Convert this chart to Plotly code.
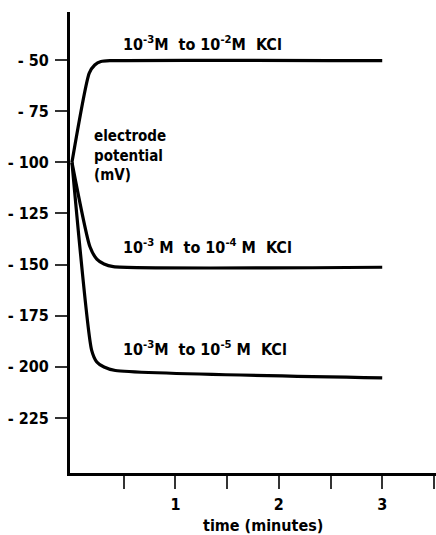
import plotly.graph_objects as go

# Data (time in minutes, electrode potential in mV)
t_1 = [0.0, 0.167, 0.22, 0.28, 0.37, 3.0]
v_1 = [-100.0, -56.4, -52.4, -50.7, -50.3, -50.3]

t_2 = [0.0, 0.174, 0.24, 0.31, 0.40, 3.0]
v_2 = [-100.0, -141.3, -147.3, -149.7, -151.0, -151.3]

t_3 = [0.0, 0.19, 0.24, 0.31, 0.42, 3.0]
v_3 = [-100.0, -191.8, -197.6, -200.1, -201.8, -205.4]

series_labels = [
    "10<sup>-3</sup>M  to 10<sup>-2</sup>M  KCl",
    "10<sup>-3</sup> M  to 10<sup>-4</sup> M  KCl",
    "10<sup>-3</sup>M  to 10<sup>-5</sup> M  KCl",
]
label_pos_y = [-47.9, -147.3, -197.3]

y_tick_vals = [-50, -75, -100, -125, -150, -175, -200, -225]
y_tick_text = ["- 50", "- 75", "- 100", "- 125", "- 150", "- 175", "- 200", "- 225"]
x_tick_vals = [1, 2, 3]
x_tick_text = ["1", "2", "3"]
x_minor_vals = [0.5, 1.5, 2.5, 3.5]

FONT = "DejaVu Sans Condensed, DejaVu Sans, sans-serif"
FSTYLE = dict(family=FONT, size=16, color="black", weight="bold")

fig = go.Figure()
for tx, vy in [(t_1, v_1), (t_2, v_2), (t_3, v_3)]:
    fig.add_trace(go.Scatter(
        x=tx, y=vy, mode="lines",
        line=dict(color="black", width=3.2, shape="spline", smoothing=0.6),
        showlegend=False, hoverinfo="skip",
    ))

for lab, ly in zip(series_labels, label_pos_y):
    fig.add_annotation(
        x=0.474, y=ly, xref="x", yref="y", text=lab, showarrow=False,
        xanchor="left", yanchor="bottom", font=FSTYLE,
    )

fig.add_annotation(
    x=0.19, y=-96.8, xref="x", yref="y",
    text="electrode<br>potential<br>(mV)", showarrow=False,
    xanchor="left", yanchor="middle", align="left",
    font=dict(FSTYLE, size=15),
)

fig.add_annotation(
    x=1.85, y=0, xref="x", yref="paper", yshift=-52,
    text="time (minutes)", showarrow=False,
    xanchor="center", yanchor="middle", font=FSTYLE,
)

fig.update_layout(
    width=436, height=535,
    margin=dict(l=70, r=0, t=12, b=62),
    paper_bgcolor="white", plot_bgcolor="white",
    font=FSTYLE,
    xaxis=dict(
        range=[-0.019, 3.52], tickvals=x_tick_vals, ticktext=x_tick_text,
        ticks="outside", ticklen=13, tickwidth=1.5, tickcolor="#333",
        minor=dict(tickvals=x_minor_vals, ticks="outside", ticklen=13,
                   tickwidth=1.5, tickcolor="#333", showgrid=False),
        showline=True, linewidth=3, linecolor="black",
        showgrid=False, zeroline=False, fixedrange=True,
        ticklabelstandoff=2,
    ),
    yaxis=dict(
        range=[-251.9, -26.5], tickvals=y_tick_vals, ticktext=y_tick_text,
        ticks="outside", ticklen=12, tickwidth=1.5, tickcolor="#333",
        showline=True, linewidth=3, linecolor="black",
        showgrid=False, zeroline=False, fixedrange=True,
        ticklabelstandoff=3,
    ),
)

fig.write_html("out.html", config={"displayModeBar": False},
               post_script="document.body.style.margin='0px';")
